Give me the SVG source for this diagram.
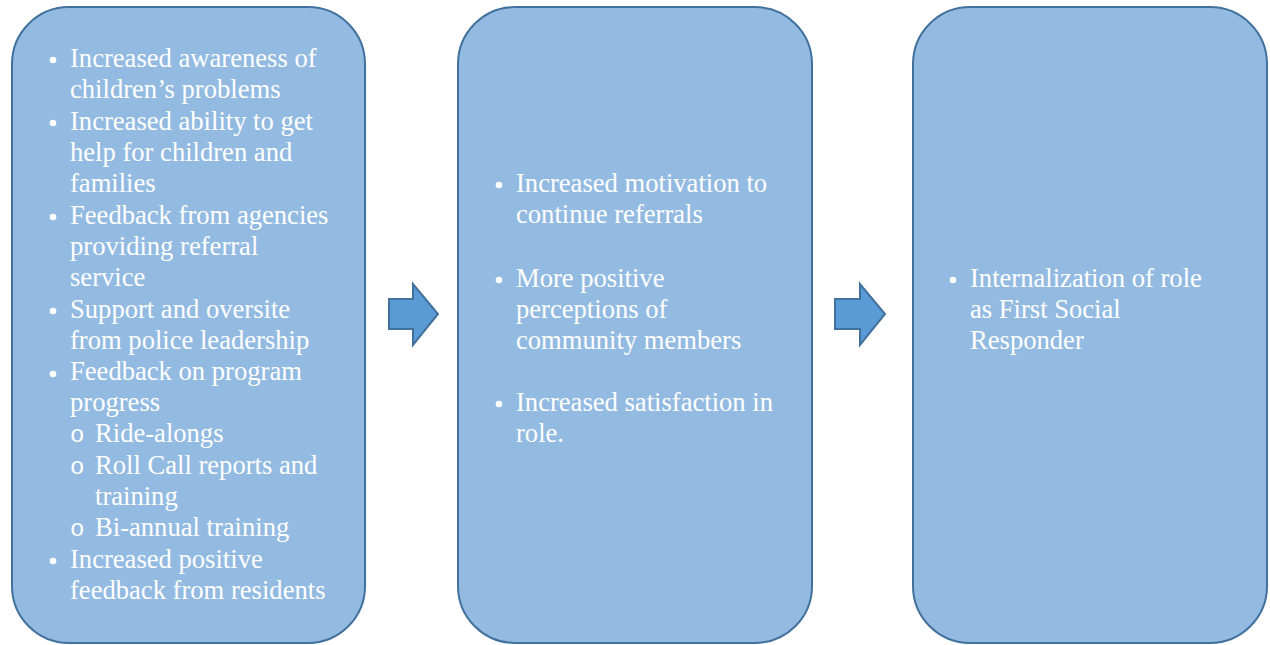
<svg xmlns="http://www.w3.org/2000/svg" width="1270" height="645" viewBox="0 0 1270 645">
<style>
.box{fill:#93BBE2;stroke:#41719C;stroke-width:2}
.arrow{fill:#5B9BD5;stroke:#41719C;stroke-width:2;stroke-linejoin:miter}
.t{font-family:"Liberation Serif","Times New Roman",serif;font-size:26.6px;fill:#ffffff}
.o{font-family:"Liberation Mono","Courier New",monospace;font-size:24px;fill:#ffffff}
.dot{fill:#ffffff}
</style>
<rect width="1270" height="645" fill="#ffffff"/>
<g id="node-inputs">
<rect class="box" x="12" y="7" width="353" height="636" rx="57" ry="57"/>
<circle class="dot" cx="53" cy="60" r="3.3"/>
<text class="t" x="70" y="67">Increased awareness of</text>
<text class="t" x="70" y="98">children’s problems</text>
<circle class="dot" cx="53" cy="123" r="3.3"/>
<text class="t" x="70" y="130">Increased ability to get</text>
<text class="t" x="70" y="161">help for children and</text>
<text class="t" x="70" y="192">families</text>
<circle class="dot" cx="53" cy="217" r="3.3"/>
<text class="t" x="70" y="224">Feedback from agencies</text>
<text class="t" x="70" y="255">providing referral</text>
<text class="t" x="70" y="286">service</text>
<circle class="dot" cx="53" cy="311" r="3.3"/>
<text class="t" x="70" y="318">Support and oversite</text>
<text class="t" x="70" y="349">from police leadership</text>
<circle class="dot" cx="53" cy="374" r="3.3"/>
<text class="t" x="70" y="380">Feedback on program</text>
<text class="t" x="70" y="411">progress</text>
<text class="o" x="70" y="442">o</text>
<text class="t" x="95" y="442">Ride-alongs</text>
<text class="o" x="70" y="474">o</text>
<text class="t" x="95" y="474">Roll Call reports and</text>
<text class="t" x="95" y="505">training</text>
<text class="o" x="70" y="536">o</text>
<text class="t" x="95" y="536">Bi-annual training</text>
<circle class="dot" cx="53" cy="561" r="3.3"/>
<text class="t" x="70" y="568">Increased positive</text>
<text class="t" x="70" y="599">feedback from residents</text>
</g>
<g id="node-mediators">
<rect class="box" x="458" y="7" width="354" height="636" rx="57" ry="57"/>
<circle class="dot" cx="499" cy="185" r="3.3"/>
<text class="t" x="516" y="192">Increased motivation to</text>
<text class="t" x="516" y="223">continue referrals</text>
<circle class="dot" cx="499" cy="280" r="3.3"/>
<text class="t" x="516" y="287">More positive</text>
<text class="t" x="516" y="318">perceptions of</text>
<text class="t" x="516" y="349">community members</text>
<circle class="dot" cx="499" cy="404" r="3.3"/>
<text class="t" x="516" y="411">Increased satisfaction in</text>
<text class="t" x="516" y="442">role.</text>
</g>
<g id="node-outcome">
<rect class="box" x="913" y="7" width="354" height="636" rx="57" ry="57"/>
<circle class="dot" cx="953" cy="280" r="3.3"/>
<text class="t" x="970" y="287">Internalization of role</text>
<text class="t" x="970" y="318">as First Social</text>
<text class="t" x="970" y="349">Responder</text>
</g>
<g id="connectors">
<polygon class="arrow" points="389,299 413,299 413,284 438,314 413,345 413,329 389,329"/>
<polygon class="arrow" points="835,299 860,299 860,284 885,314 860,345 860,329 835,329"/>
</g>
</svg>
